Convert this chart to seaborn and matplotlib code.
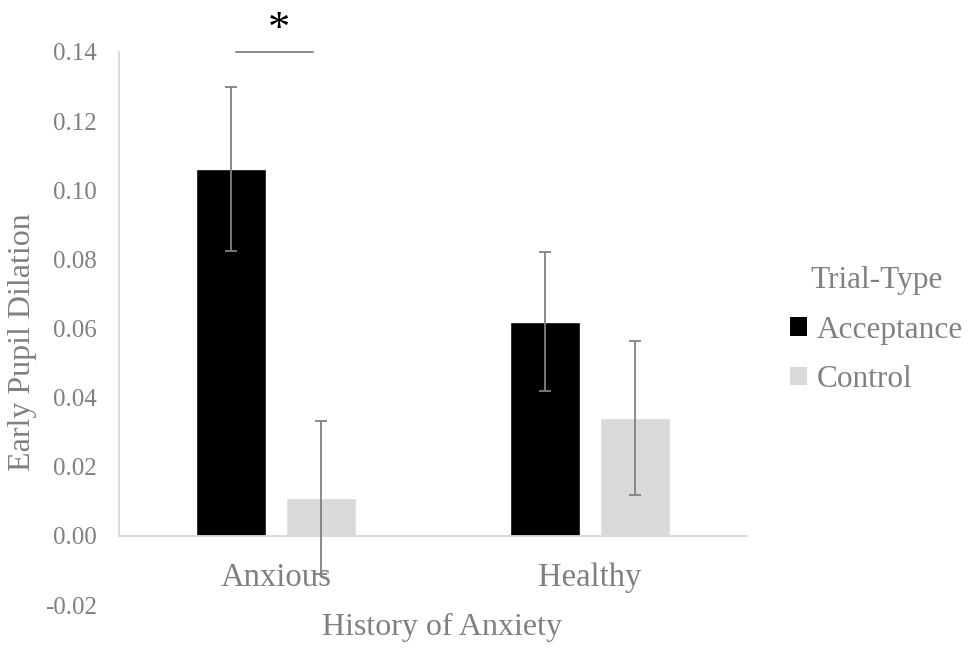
import matplotlib
matplotlib.use("Agg")
import matplotlib.pyplot as plt
from matplotlib.patches import Patch
import numpy as np
import pandas as pd
import seaborn as sns

# ---- data ----
categories = ["Anxious", "Healthy"]
trial_types = ["Acceptance", "Control"]
acceptance_means = [0.106, 0.062]
control_means = [0.011, 0.034]
acceptance_err = [0.0237, 0.0200]
control_err = [0.0221, 0.0223]
y_ticks = [-0.02, 0.00, 0.02, 0.04, 0.06, 0.08, 0.10, 0.12, 0.14]

rows = []
for i, c in enumerate(categories):
    rows.append({"History": c, "Trial-Type": "Acceptance", "Dilation": acceptance_means[i], "err": acceptance_err[i]})
    rows.append({"History": c, "Trial-Type": "Control", "Dilation": control_means[i], "err": control_err[i]})
df = pd.DataFrame(rows)

sns.set_theme(style="white")
plt.rcParams["font.family"] = ["Liberation Serif", "DejaVu Serif"]

TXT = "#808080"
AX = "#d9d9d9"
palette = {"Acceptance": "#000000", "Control": "#d9d9d9"}

fig = plt.figure(figsize=(9.72, 6.5), dpi=100)
ax = fig.add_axes([0.1224, 0.0692, 0.646, 0.851])

sns.barplot(data=df, x="History", y="Dilation", hue="Trial-Type",
            order=categories, hue_order=trial_types, palette=palette,
            width=0.573, gap=0.222, errorbar=None, saturation=1,
            legend=False, ax=ax)

for level, cont in zip(trial_types, ax.containers):
    for cat, bar in zip(categories, cont):
        r = df[(df["History"] == cat) & (df["Trial-Type"] == level)].iloc[0]
        xc = bar.get_x() + bar.get_width() / 2
        ax.errorbar(xc, r["Dilation"], yerr=r["err"], fmt="none",
                    ecolor=TXT, elinewidth=1.3, capsize=4.3, capthick=1.3,
                    clip_on=False, zorder=5)

ax.set_xlim(-0.5, 1.5)
ax.set_ylim(-0.02, 0.14)
ax.set_yticks(y_ticks)
ax.set_yticklabels([f"{v:.2f}" for v in y_ticks])

for s in ["top", "right"]:
    ax.spines[s].set_visible(False)
ax.spines["left"].set_bounds(0, 0.14)
ax.spines["bottom"].set_position(("data", 0))
for s in ["left", "bottom"]:
    ax.spines[s].set_color(AX)
    ax.spines[s].set_linewidth(1.3)

ax.tick_params(axis="y", length=0, pad=15.8, labelsize=18, labelcolor=TXT)
ax.tick_params(axis="x", length=0, pad=19.5, labelsize=23.5, labelcolor=TXT)

ax.set_xlabel("History of Anxiety", fontsize=23, color=TXT)
ax.xaxis.set_label_coords(0.515, -0.040)
ax.xaxis.label.set_va("center")
ax.set_ylabel("Early Pupil Dilation", fontsize=23, color=TXT)
ax.yaxis.set_label_coords(-0.154, 0.476)
ax.yaxis.label.set_va("center")

# significance marker
ax.plot([-0.127, 0.118], [0.140, 0.140], color=TXT, lw=1.3, clip_on=False)
ax.text(0.01, 0.1462, "*", fontsize=32, ha="center", va="center", color="black")

handles = [Patch(facecolor=palette[t], edgecolor="none") for t in trial_types]
leg = ax.legend(handles, trial_types, title="Trial-Type", frameon=False,
                loc="center left", bbox_to_anchor=(0.813, 0.492),
                bbox_transform=fig.transFigure, fontsize=22.5, title_fontsize=22.5,
                handlelength=0.55, handleheight=0.55, handletextpad=0.3,
                labelspacing=0.65, borderpad=0, borderaxespad=0, labelcolor=TXT)
leg.get_title().set_color(TXT)

fig.savefig("out.png", dpi=100)
